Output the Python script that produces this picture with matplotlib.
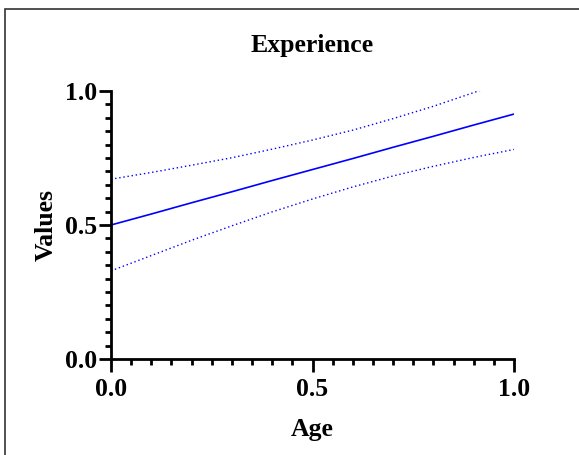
import matplotlib
matplotlib.use("Agg")
import matplotlib.pyplot as plt
from matplotlib.patches import Rectangle
from matplotlib.ticker import MultipleLocator

# Regression fit of Experience against Age, with its confidence band
age = [0.0, 0.1, 0.2, 0.3, 0.4, 0.5, 0.6, 0.7, 0.8, 0.9, 1.0]
fit = [0.500, 0.541, 0.583, 0.624, 0.666, 0.707, 0.748, 0.790, 0.831, 0.873, 0.914]
upper = [0.671, 0.696, 0.723, 0.751, 0.783, 0.817, 0.854, 0.897, 0.943, 0.994, 1.046]
lower = [0.329, 0.386, 0.443, 0.497, 0.549, 0.597, 0.642, 0.683, 0.719, 0.752, 0.782]

x_ticks = [0.0, 0.5, 1.0]
y_ticks = [0.0, 0.5, 1.0]
tick_labels = ["0.0", "0.5", "1.0"]

plt.rcParams["font.family"] = ["Liberation Serif", "DejaVu Serif"]
plt.rcParams["font.weight"] = "bold"

W, H = 579, 455
fig = plt.figure(figsize=(W / 100, H / 100), dpi=100)
ax = fig.add_axes([111 / W, 1 - 359 / H, 403 / W, 268 / H])

blue = "#0000ff"
ax.plot(age, fit, color=blue, lw=1.2, solid_capstyle="butt")
ax.plot(age, upper, color=blue, lw=1.0, linestyle=(0, (1, 2)))
ax.plot(age, lower, color=blue, lw=1.0, linestyle=(0, (1, 2)))

ax.set_xlim(0, 1)
ax.set_ylim(0, 1)
ax.set_xticks(x_ticks)
ax.set_yticks(y_ticks)
ax.set_xticklabels(tick_labels)
ax.set_yticklabels(tick_labels)
ax.xaxis.set_minor_locator(MultipleLocator(0.05))
ax.yaxis.set_minor_locator(MultipleLocator(0.05))

for side in ("top", "right"):
    ax.spines[side].set_visible(False)
for side in ("left", "bottom"):
    ax.spines[side].set_linewidth(2.0)
    ax.spines[side].set_color("black")

fs = 18.5
ax.tick_params(axis="both", which="major", length=9, width=2.0, labelsize=fs, color="black")
ax.tick_params(axis="both", which="minor", length=4.5, width=2.0, color="black")
ax.tick_params(axis="x", which="major", pad=5)
ax.tick_params(axis="y", which="major", pad=1)
for lab in ax.get_xticklabels() + ax.get_yticklabels():
    lab.set_fontweight("bold")

ax.set_title("Experience", fontsize=fs, fontweight="bold", pad=28)
ax.set_xlabel("Age", fontsize=fs, fontweight="bold", labelpad=12)
ax.set_ylabel("Values", fontsize=fs, fontweight="bold", labelpad=5)

# outer frame around the figure
fig.patches.append(Rectangle((5 / W, -0.1), 1.2, 1.1 - 9 / H, transform=fig.transFigure,
                             fill=False, edgecolor="#333333", lw=1.2))

fig.savefig("out.png", dpi=100)
